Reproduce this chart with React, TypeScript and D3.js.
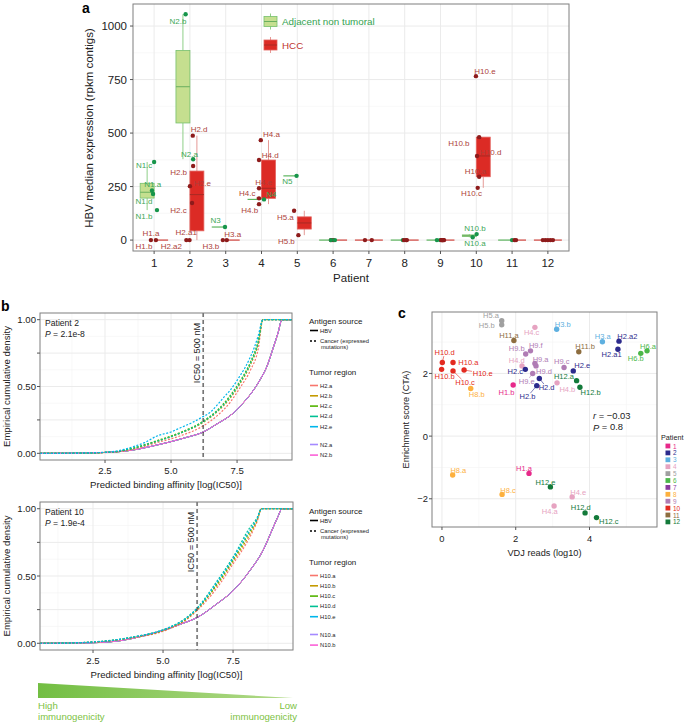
import React from "react";
import * as d3 from "d3";

const FONT = "'Liberation Sans', Arial, Helvetica, sans-serif";

// ================= Panel a data =================
const patientsA = [1, 2, 3, 4, 5, 6, 7, 8, 9, 10, 11, 12];
const yTicksA = [0, 250, 500, 750, 1000];
const yMinorA = [125, 375, 625, 875];
const groupLabelsA = ["Adjacent non tumoral", "HCC"];
// [patient, group, sample, HBV median expression]
const samplesA: [number, string, string, number][] = [
  [1, "N", "N1.a", 232], [1, "N", "N1.b", 140], [1, "N", "N1.c", 365], [1, "N", "N1.d", 215],
  [1, "H", "H1.a", 0], [1, "H", "H1.b", 0],
  [2, "N", "N2.a", 378], [2, "N", "N2.b", 1055],
  [2, "H", "H2.a1", 0], [2, "H", "H2.a2", 0], [2, "H", "H2.b", 346], [2, "H", "H2.c", 173],
  [2, "H", "H2.d", 488], [2, "H", "H2.e", 252],
  [3, "N", "N3", 61], [3, "H", "H3.a", 0], [3, "H", "H3.b", 0],
  [4, "N", "N4", 190], [4, "H", "H4.a", 467], [4, "H", "H4.b", 168], [4, "H", "H4.c", 195],
  [4, "H", "H4.d", 374], [4, "H", "H4.e", 242],
  [5, "N", "N5", 300], [5, "H", "H5.a", 137], [5, "H", "H5.b", 23],
  [6, "H", "H6.a", 0], [6, "H", "H6.b", 0], [6, "N", "N6.a", 0], [6, "N", "N6.b", 0],
  [7, "H", "H7.a", 0], [7, "H", "H7.b", 0],
  [8, "N", "N8", 0], [8, "H", "H8.a", 0], [8, "H", "H8.b", 0], [8, "H", "H8.c", 0],
  [9, "N", "N9.a", 0], [9, "N", "N9.b", 0], [9, "H", "H9.a", 0], [9, "H", "H9.b", 0],
  [9, "H", "H9.c", 0], [9, "H", "H9.d", 0], [9, "H", "H9.e", 0], [9, "H", "H9.f", 0],
  [10, "N", "N10.a", 13], [10, "N", "N10.b", 28], [10, "H", "H10.a", 296], [10, "H", "H10.b", 481],
  [10, "H", "H10.c", 244], [10, "H", "H10.d", 393], [10, "H", "H10.e", 766],
  [11, "N", "N11", 0], [11, "H", "H11.a", 0], [11, "H", "H11.b", 0],
  [12, "H", "H12.a", 0], [12, "H", "H12.b", 0], [12, "H", "H12.c", 0], [12, "H", "H12.d", 0], [12, "H", "H12.e", 0],
];
// horizontal jitter of points (patient units)
const jitterA: Record<string, number> = {
  "N1.a": -0.06, "N1.b": 0.08, "N1.c": 0, "N1.d": -0.03, "H1.a": -0.09, "H1.b": 0.05,
  "N2.a": 0.09, "N2.b": -0.12, "H2.a1": -0.01, "H2.a2": -0.1, "H2.b": 0.09, "H2.c": 0.06, "H2.d": 0.08, "H2.e": 0,
  "N3": -0.02, "H3.a": 0.03, "H3.b": -0.08,
  "N4": 0.07, "H4.a": -0.02, "H4.b": -0.07, "H4.c": -0.07, "H4.d": -0.07, "H4.e": -0.07,
  "N5": -0.02, "H5.a": -0.09, "H5.b": 0.03,
  "H6.a": -0.06, "H6.b": 0.0, "N6.a": -0.06, "N6.b": 0.05,
  "H7.a": -0.11, "H7.b": 0.08,
  "N8": -0.05, "H8.a": -0.02, "H8.b": 0.04, "H8.c": 0.06,
  "N9.a": -0.1, "N9.b": -0.01, "H9.a": 0.02, "H9.b": 0.04, "H9.c": 0.06, "H9.d": 0.08, "H9.e": 0.1, "H9.f": 0.05,
  "N10.a": -0.1, "N10.b": 0.01, "H10.a": 0.08, "H10.b": 0.08, "H10.c": 0.04, "H10.d": 0.02, "H10.e": -0.01,
  "N11": 0, "H11.a": 0.07, "H11.b": 0.11,
  "H12.a": -0.14, "H12.b": -0.07, "H12.c": 0, "H12.d": 0.07, "H12.e": 0.14,
};
// label offsets (px) from point to label centre
const labelNudgeA: Record<string, [number, number]> = {
  "N1.c": [-10, 4], "N1.a": [0.7, -6.3], "N1.d": [-9, 7], "N1.b": [-13, 6.5], "H1.a": [0, -6.5], "H1.b": [-12, 6.5],
  "N2.b": [-7.7, 7], "N2.a": [-3.7, -4.5], "H2.d": [6.3, -6], "H2.b": [-14.5, 6], "H2.e": [12.5, -2.7],
  "H2.c": [-13.5, 7.5], "H2.a1": [-3.3, -7.3], "H2.a2": [-15, 6.7],
  "N3": [-9.3, -6.3], "H3.a": [6, -5.5], "H3.b": [-12, 6.3],
  "H4.a": [10.7, -5.5], "H4.d": [11.2, -5], "H4.e": [4.8, -5.5], "H4.c": [-11.8, -4.5], "H4.b": [-9.2, 6.3], "N4": [7.3, -4.8],
  "N5": [-9.2, 5.5], "H5.a": [-8.7, 6.3], "H5.b": [-12, 6.2],
  "H10.e": [9, -5], "H10.b": [-20.3, 6.7], "H10.d": [13.8, -3.8], "H10.a": [-3.7, -5.5], "H10.c": [-6.2, 6],
  "N10.b": [-1.7, -5.2], "N10.a": [2.3, 6.3],
};
const labelSegmentsA = ["H4.c"];

// ================= Panel b data =================
const xTicksB = [2.5, 5, 7.5];
const xMinorB = [1.25, 3.75, 6.25, 8.75];
const yTicksB = [0, 0.25, 0.5, 0.75, 1];
const yTickLabelsB = ["0.00", "", "0.50", "", "1.00"];
const yMinorB = [0.125, 0.375, 0.625, 0.875];
const ic50Threshold = 500; // nM
const regionColors = ["#F8766D", "#C49A00", "#53B400", "#00C094", "#00B6EB", "#A58AFF", "#FB61D7"];
const regionsP2 = ["H2.a", "H2.b", "H2.c", "H2.d", "H2.e", "N2.a", "N2.b"];
const regionsP10 = ["H10.a", "H10.b", "H10.c", "H10.d", "H10.e", "N10.a", "N10.b"];
const hbvP2: [number, number][] = [
  [0.47, 0], [1.5, 0.001], [2.3, 0.005], [3.0, 0.012], [3.57, 0.025], [4.2, 0.05], [4.85, 0.08],
  [5.6, 0.12], [6.17, 0.155], [6.74, 0.22], [7.35, 0.3], [7.7, 0.37], [8.0, 0.44], [8.37, 0.55],
  [8.63, 0.65], [8.87, 0.79], [9.05, 0.9], [9.2, 1.0],
];
const cancerP2: [number, number][][] = [
  [[0.47, 0], [1.5, 0.001], [2.3, 0.004], [3.0, 0.012], [3.57, 0.03], [4.47, 0.08], [5.34, 0.13], [6.17, 0.2], [6.74, 0.28], [7.23, 0.38], [7.61, 0.49], [8.0, 0.62], [8.3, 0.78], [8.48, 1.0]],
  [[0.47, 0], [1.5, 0.001], [2.3, 0.005], [3.0, 0.014], [3.57, 0.035], [4.47, 0.09], [5.34, 0.15], [6.17, 0.225], [6.74, 0.31], [7.23, 0.41], [7.61, 0.52], [8.0, 0.66], [8.3, 0.82], [8.48, 1.0]],
  [[0.47, 0], [1.5, 0.001], [2.3, 0.005], [3.0, 0.015], [3.57, 0.04], [4.47, 0.095], [5.34, 0.155], [6.17, 0.235], [6.74, 0.32], [7.23, 0.43], [7.61, 0.54], [8.0, 0.68], [8.3, 0.84], [8.48, 1.0]],
  [[0.47, 0], [1.5, 0.001], [2.3, 0.005], [3.0, 0.015], [3.57, 0.038], [4.47, 0.09], [5.34, 0.15], [6.17, 0.23], [6.74, 0.315], [7.23, 0.42], [7.61, 0.53], [8.0, 0.67], [8.3, 0.83], [8.48, 1.0]],
  [[0.47, 0], [1.5, 0.002], [2.3, 0.006], [3.0, 0.02], [3.57, 0.05], [4.0, 0.08], [4.47, 0.13], [5.0, 0.16], [5.34, 0.19], [5.8, 0.23], [6.17, 0.27], [6.5, 0.31], [6.74, 0.36], [7.0, 0.42], [7.23, 0.47], [7.45, 0.53], [7.61, 0.58], [7.8, 0.64], [8.0, 0.72], [8.15, 0.79], [8.3, 0.88], [8.48, 1.0]],
];
const hbvP10: [number, number][] = [
  [1.0, 0], [2.0, 0.002], [2.75, 0.006], [3.5, 0.02], [4.2, 0.05], [5.0, 0.095], [5.6, 0.14],
  [6.25, 0.195], [6.9, 0.29], [7.5, 0.39], [8.1, 0.54], [8.57, 0.69], [8.93, 0.86], [9.1, 0.94], [9.25, 1.0],
];
const cancerP10: [number, number][][] = [
  [[1.0, 0], [2.5, 0.008], [3.9, 0.04], [5.14, 0.1], [5.8, 0.17], [6.25, 0.25], [6.92, 0.41], [7.5, 0.59], [8.1, 0.79], [8.35, 0.9], [8.52, 1.0]],
  [[1.0, 0], [2.5, 0.008], [3.9, 0.042], [5.14, 0.105], [5.8, 0.175], [6.25, 0.26], [6.92, 0.43], [7.5, 0.61], [8.1, 0.81], [8.35, 0.91], [8.52, 1.0]],
  [[1.0, 0], [2.5, 0.009], [3.9, 0.044], [5.14, 0.108], [5.8, 0.18], [6.25, 0.262], [6.92, 0.44], [7.5, 0.62], [8.1, 0.83], [8.35, 0.92], [8.52, 1.0]],
  [[1.0, 0], [2.5, 0.01], [3.9, 0.046], [5.14, 0.112], [5.8, 0.185], [6.25, 0.27], [6.92, 0.46], [7.5, 0.64], [8.1, 0.86], [8.35, 0.93], [8.52, 1.0]],
  [[1.0, 0], [2.5, 0.009], [3.9, 0.045], [5.14, 0.11], [5.8, 0.182], [6.25, 0.265], [6.92, 0.45], [7.5, 0.63], [8.1, 0.84], [8.35, 0.92], [8.52, 1.0]],
];

// ================= Panel c data =================
const xTicksC = [0, 2, 4];
const xMinorC = [1, 3, 5];
const yTicksC = [-2, 0, 2];
const yMinorC = [-1, 1, 3];
const patientColorsC = ["#e7298a", "#2c2a8c", "#5eb0e0", "#e6a3c1", "#a0a0a0", "#4cb84a",
  "#8b3a9f", "#fdb03e", "#b07cb4", "#e32a20", "#8d6d3f", "#137a3a"];
// [sample, VDJ reads (log10), enrichment score]
const samplesC: [string, number, number][] = [
  ["H5.a", 1.62, 3.68], ["H5.b", 1.62, 3.55], ["H4.c", 2.52, 3.47], ["H3.b", 3.11, 3.41],
  ["H11.a", 1.95, 3.05], ["H3.a", 4.35, 3.01], ["H2.a2", 4.8, 3.03], ["H2.a1", 4.77, 2.77],
  ["H11.b", 3.71, 2.69], ["H6.a", 5.56, 2.72], ["H6.b", 5.39, 2.64], ["H9.f", 2.4, 2.72],
  ["H9.b", 2.27, 2.62], ["H10.d", 0.01, 2.35], ["H10.a", 0.3, 2.35], ["H10.b", -0.01, 2.13],
  ["H10.c", 0.3, 2.08], ["H10.e", 0.6, 2.11], ["H8.b", 0.78, 1.52], ["H4.d", 2.17, 2.24],
  ["H9.a", 2.52, 2.32], ["H9.d", 2.55, 2.24], ["H9.e", 2.46, 2.0], ["H2.c", 2.26, 2.13],
  ["H2.d", 2.64, 1.84], ["H2.b", 2.57, 1.61], ["H1.b", 1.93, 1.63], ["H9.c", 3.31, 2.19],
  ["H2.e", 3.56, 2.08], ["H4.b", 3.12, 1.7], ["H12.a", 3.65, 1.77], ["H12.b", 3.74, 1.56],
  ["H8.a", 0.29, -1.24], ["H1.a", 2.36, -1.19], ["H12.e", 2.94, -1.62], ["H8.c", 1.63, -1.86],
  ["H4.e", 3.53, -1.94], ["H4.a", 3.04, -2.23], ["H12.d", 3.88, -2.45], ["H12.c", 4.19, -2.6],
];
const labelNudgeC: Record<string, [number, number]> = {
  "H5.a": [-10.7, -5], "H5.b": [-15, 0.7], "H4.c": [-3.3, 5.3], "H3.b": [6, -5], "H11.a": [-5, -5.3],
  "H3.a": [0.3, -5.7], "H2.a2": [8.3, -5], "H2.a1": [-6.3, 5.7], "H11.b": [6.3, -5], "H6.a": [1, -4.3],
  "H6.b": [-5, 5.3], "H9.f": [5.3, -5.3], "H9.b": [-9, -5], "H10.d": [2.3, -9.7], "H10.a": [15.3, 0.3],
  "H10.b": [3, 6.7], "H10.c": [12, 11.7], "H10.e": [18.7, 3.3], "H8.b": [6, 5.7], "H4.d": [-5.3, -5],
  "H9.a": [5.7, -4.3], "H9.d": [8, 5.7], "H9.e": [-6, 7.7], "H2.c": [-10, 1.7], "H2.d": [7.3, 9],
  "H2.b": [-9.3, 11], "H1.b": [-6.7, 7], "H9.c": [-2.3, -5.7], "H2.e": [9, -5], "H4.b": [10.3, 6.7],
  "H12.a": [-12.7, -4], "H12.b": [10.7, 5], "H8.a": [5.7, -4.7], "H1.a": [-5, -5], "H12.e": [-5, -4.7],
  "H8.c": [6, -4.3], "H4.e": [6, -4.3], "H4.a": [-4.3, 5], "H12.d": [-4.3, -5], "H12.c": [12.3, 4.3],
};
const labelSegmentsC = ["H10.d", "H10.c", "H10.e", "H9.e", "H2.d", "H2.b"];
const correlationText = ["r = \u22120.03", "P = 0.8"];

// ================= helpers =================
function boxStats(vals: number[]) {
  const s = [...vals].sort(d3.ascending);
  const q1 = d3.quantileSorted(s, 0.25) as number;
  const med = d3.quantileSorted(s, 0.5) as number;
  const q3 = d3.quantileSorted(s, 0.75) as number;
  const iqr = q3 - q1;
  const lo = d3.min(s.filter((v) => v >= q1 - 1.5 * iqr)) as number;
  const hi = d3.max(s.filter((v) => v <= q3 + 1.5 * iqr)) as number;
  return { q1, med, q3, lo, hi };
}

function segmentEnd(px: number, py: number, cx: number, cy: number, hw: number, hh: number) {
  const dx = px - cx, dy = py - cy;
  const s = Math.min(dx === 0 ? Infinity : hw / Math.abs(dx), dy === 0 ? Infinity : hh / Math.abs(dy));
  if (s >= 1) return null;
  return [cx + dx * s, cy + dy * s];
}

const GRID = "#ebebeb";
const GRID_MINOR = "#f4f4f4";
const BORDER = "#7f7f7f";
const TXT = "#222";

// ================= Panel a =================
function PanelA() {
  const x = d3.scaleLinear().domain([0.41, 12.59]).range([133, 569]);
  const y = d3.scaleLinear().domain([-51, 1103]).range([251, 4]);
  const bw = 0.39;
  const col: Record<string, any> = {
    N: { fill: "#c5df8f", stroke: "#76c06d", median: "#6aaf5f", whisker: "#8fcf88", zero: "#5db55e", point: "#16954a", label: "#3ea757" },
    H: { fill: "#dc2b25", stroke: "#e3625d", median: "#a82a24", whisker: "#e59a96", zero: "#d2423c", point: "#8e1b1b", label: "#ad3f3a" },
  };
  const boxes: any[] = [];
  patientsA.forEach((p) => {
    const rows = samplesA.filter((s) => s[0] === p);
    const hasN = rows.some((r) => r[1] === "N");
    const hasH = rows.some((r) => r[1] === "H");
    ["N", "H"].forEach((g) => {
      const vals = rows.filter((r) => r[1] === g).map((r) => r[3]);
      if (!vals.length) return;
      const single = !(hasN && hasH);
      const x0 = single ? p - bw : g === "N" ? p - bw : p;
      const x1 = single ? p + bw : g === "N" ? p : p + bw;
      boxes.push({ p, g, x0, x1, ...boxStats(vals) });
    });
  });
  const fs = 8;
  return (
    <g>
      <rect x={133} y={4} width={436} height={247} fill="#fff" />
      {yMinorA.map((v) => (
        <line key={"ym" + v} x1={133} x2={569} y1={y(v)} y2={y(v)} stroke={GRID_MINOR} strokeWidth={0.6} />
      ))}
      {yTicksA.map((v) => (
        <line key={"yg" + v} x1={133} x2={569} y1={y(v)} y2={y(v)} stroke={GRID} strokeWidth={1} />
      ))}
      {patientsA.map((p) => (
        <line key={"xg" + p} x1={x(p)} x2={x(p)} y1={4} y2={251} stroke={GRID} strokeWidth={1} />
      ))}
      {boxes.map((b, i) => {
        const cx = x((b.x0 + b.x1) / 2);
        return (
          <g key={"w" + i} stroke={col[b.g].whisker} strokeWidth={1}>
            {b.hi > b.q3 && <line x1={cx} x2={cx} y1={y(b.q3)} y2={y(b.hi)} />}
            {b.lo < b.q1 && <line x1={cx} x2={cx} y1={y(b.q1)} y2={y(b.lo)} />}
          </g>
        );
      })}
      {boxes.map((b, i) => {
        const h = y(b.q1) - y(b.q3);
        if (h < 0.6) {
          return (
            <line key={"b" + i} x1={x(b.x0)} x2={x(b.x1)} y1={y(b.med)} y2={y(b.med)} stroke={col[b.g].zero} strokeWidth={1.2} />
          );
        }
        return (
          <g key={"b" + i}>
            <rect x={x(b.x0)} y={y(b.q3)} width={x(b.x1) - x(b.x0)} height={h} fill={col[b.g].fill} stroke={col[b.g].stroke} strokeWidth={0.8} />
            <line x1={x(b.x0)} x2={x(b.x1)} y1={y(b.med)} y2={y(b.med)} stroke={col[b.g].median} strokeWidth={1} />
          </g>
        );
      })}
      {samplesA.filter((s) => labelSegmentsA.includes(s[2])).map((s) => {
        const px = x(s[0] + (jitterA[s[2]] || 0));
        const py = y(s[3]);
        const n = labelNudgeA[s[2]];
        const cx = px + n[0], cy = py + n[1];
        const e = segmentEnd(px, py, cx, cy, s[2].length * fs * 0.29, fs * 0.45);
        if (!e) return null;
        return <line key={"sg" + s[2]} x1={px} y1={py} x2={e[0]} y2={e[1]} stroke={col[s[1]].label} strokeWidth={0.6} />;
      })}
      {samplesA.map((s) => (
        <circle key={"pt" + s[2]} cx={x(s[0] + (jitterA[s[2]] || 0))} cy={y(s[3])} r={2.2} fill={col[s[1]].point} />
      ))}
      {samplesA.filter((s) => labelNudgeA[s[2]]).map((s) => {
        const n = labelNudgeA[s[2]];
        return (
          <text key={"lb" + s[2]} x={x(s[0] + (jitterA[s[2]] || 0)) + n[0]} y={y(s[3]) + n[1]} fontSize={fs}
            textAnchor="middle" dominantBaseline="central" fill={col[s[1]].label}>
            {s[2]}
          </text>
        );
      })}
      <rect x={133} y={4} width={436} height={247} fill="none" stroke={BORDER} strokeWidth={1} />
      {yTicksA.map((v) => (
        <g key={"yt" + v}>
          <line x1={130} x2={133} y1={y(v)} y2={y(v)} stroke="#555" />
          <text x={127} y={y(v)} fontSize={11.5} textAnchor="end" dominantBaseline="central" fill={TXT}>{v}</text>
        </g>
      ))}
      {patientsA.map((p) => (
        <g key={"xt" + p}>
          <line x1={x(p)} x2={x(p)} y1={251} y2={254} stroke="#555" />
          <text x={x(p)} y={263} fontSize={11.5} textAnchor="middle" dominantBaseline="central" fill={TXT}>{p}</text>
        </g>
      ))}
      <text x={351} y={278} fontSize={11.5} textAnchor="middle" dominantBaseline="central" fill={TXT}>Patient</text>
      <text transform="translate(89,128) rotate(-90)" fontSize={11.5} textAnchor="middle" dominantBaseline="central" fill={TXT}>
        HBV median expression (rpkm contigs)
      </text>
      <text x={82} y={13} fontSize={14} fontWeight="bold" fill="#000">a</text>
      {["N", "H"].map((g, i) => {
        const cy = i === 0 ? 21.5 : 45;
        return (
          <g key={"lg" + g}>
            <line x1={270.5} x2={270.5} y1={cy - 8} y2={cy + 8} stroke={col[g].whisker} />
            <rect x={264} y={cy - 5} width={13} height={10} fill={col[g].fill} stroke={col[g].stroke} strokeWidth={0.8} />
            <line x1={264} x2={277} y1={cy} y2={cy} stroke={col[g].median} />
            <text x={282} y={cy} fontSize={9.8} dominantBaseline="central" fill={g === "N" ? "#34a24f" : "#c0352f"}>
              {groupLabelsA[i]}
            </text>
          </g>
        );
      })}
    </g>
  );
}

// ================= Panel b =================
function EcdfPanel(props: any) {
  const { x0, x1, top, bottom, xDomain, regions, hbv, cancer, title, pval, legendTop } = props;
  const x = d3.scaleLinear().domain(xDomain).range([x0, x1]);
  const y = d3.scaleLinear().domain([-0.05, 1.05]).range([bottom, top]);
  const line = d3.line<[number, number]>().x((d) => x(d[0])).y((d) => y(d[1])).curve(d3.curveMonotoneX);
  const full = (c: [number, number][]) => [[xDomain[0], 0], ...c, [xDomain[1], 1]] as [number, number][];
  const xIC = x(Math.log(ic50Threshold));
  const clipId = "clip" + top;
  const lx = 309;
  const itemY = (i: number) => (i < 5 ? legendTop + 64.5 + i * 10.3 : legendTop + 123.5 + (i - 5) * 10.6);
  return (
    <g>
      <defs>
        <clipPath id={clipId}><rect x={x0} y={top} width={x1 - x0} height={bottom - top} /></clipPath>
      </defs>
      {yMinorB.map((v) => <line key={"ym" + v} x1={x0} x2={x1} y1={y(v)} y2={y(v)} stroke={GRID_MINOR} strokeWidth={0.6} />)}
      {xMinorB.map((v) => <line key={"xm" + v} x1={x(v)} x2={x(v)} y1={top} y2={bottom} stroke={GRID_MINOR} strokeWidth={0.6} />)}
      {yTicksB.map((v) => <line key={"yg" + v} x1={x0} x2={x1} y1={y(v)} y2={y(v)} stroke={GRID} />)}
      {xTicksB.map((v) => <line key={"xg" + v} x1={x(v)} x2={x(v)} y1={top} y2={bottom} stroke={GRID} />)}
      <g clipPath={`url(#${clipId})`}>
        {regions.map((r: string, i: number) => (
          <path key={"h" + r} d={line(full(hbv)) as string} fill="none" stroke={regionColors[i]} strokeWidth={1} />
        ))}
        {cancer.map((c: [number, number][], i: number) => (
          <path key={"c" + i} d={line(full(c)) as string} fill="none" stroke={regionColors[i]} strokeWidth={1.2} strokeDasharray="2,1.6" />
        ))}
        <line x1={xIC} x2={xIC} y1={top} y2={bottom} stroke="#333" strokeWidth={1.1} strokeDasharray="4,3" />
      </g>
      <text transform={`translate(${xIC - 6},${top + 40}) rotate(-90)`} fontSize={9.2} textAnchor="middle" dominantBaseline="central" fill={TXT}>
        IC50 = 500 nM
      </text>
      <text x={x0 + 5} y={top + 10} fontSize={8.6} dominantBaseline="central" fill={TXT}>{title}</text>
      <text x={x0 + 5} y={top + 20.5} fontSize={8.6} dominantBaseline="central" fill={TXT}>
        <tspan fontStyle="italic">P</tspan> = {pval}
      </text>
      <rect x={x0} y={top} width={x1 - x0} height={bottom - top} fill="none" stroke={BORDER} strokeWidth={1} />
      {yTicksB.map((v, i) => (
        <g key={"yt" + v}>
          <line x1={x0 - 3} x2={x0} y1={y(v)} y2={y(v)} stroke="#555" />
          {yTickLabelsB[i] && (
            <text x={x0 - 4} y={y(v)} fontSize={9.6} textAnchor="end" dominantBaseline="central" fill={TXT}>{yTickLabelsB[i]}</text>
          )}
        </g>
      ))}
      {xTicksB.map((v) => (
        <g key={"xt" + v}>
          <line x1={x(v)} x2={x(v)} y1={bottom} y2={bottom + 3} stroke="#555" />
          <text x={x(v)} y={bottom + 10} fontSize={9.6} textAnchor="middle" dominantBaseline="central" fill={TXT}>{v.toFixed(1)}</text>
        </g>
      ))}
      <text x={(x0 + x1) / 2} y={bottom + 24.5} fontSize={9.6} textAnchor="middle" dominantBaseline="central" fill={TXT}>
        Predicted binding affinity [log(IC50)]
      </text>
      <text transform={`translate(6,${(top + bottom) / 2}) rotate(-90)`} fontSize={9.6} textAnchor="middle" dominantBaseline="central" fill={TXT}>
        Empirical cumulative density
      </text>
      <text x={lx} y={legendTop} fontSize={8} dominantBaseline="central" fill={TXT}>Antigen source</text>
      <line x1={lx + 1} x2={lx + 9} y1={legendTop + 9.5} y2={legendTop + 9.5} stroke="#000" strokeWidth={1.6} />
      <text x={lx + 11} y={legendTop + 9.5} fontSize={5.8} dominantBaseline="central" fill={TXT}>HBV</text>
      <line x1={lx + 1} x2={lx + 9} y1={legendTop + 20} y2={legendTop + 20} stroke="#000" strokeWidth={1.6} strokeDasharray="2,2" />
      <text x={lx + 11} y={legendTop + 20} fontSize={5.8} dominantBaseline="central" fill={TXT}>Cancer (expressed</text>
      <text x={lx + 12} y={legendTop + 26} fontSize={5.8} dominantBaseline="central" fill={TXT}>mutations)</text>
      <text x={lx} y={legendTop + 51} fontSize={8} dominantBaseline="central" fill={TXT}>Tumor region</text>
      {regions.map((r: string, i: number) => (
        <g key={"li" + r}>
          <line x1={lx + 1} x2={lx + 9} y1={itemY(i)} y2={itemY(i)} stroke={regionColors[i]} strokeWidth={1.6} />
          <text x={lx + 11} y={itemY(i)} fontSize={5.8} dominantBaseline="central" fill={TXT}>{r}</text>
        </g>
      ))}
    </g>
  );
}

// ================= Panel c =================
function PanelC() {
  const X0 = 432, X1 = 657, T = 312, B = 527;
  const x = d3.scaleLinear().domain([-0.27, 5.83]).range([X0, X1]);
  const y = d3.scaleLinear().domain([-2.9, 3.96]).range([B, T]);
  const pcol = (name: string) => patientColorsC[parseInt(name.slice(1), 10) - 1];
  const fs = 7.5;
  return (
    <g>
      {yMinorC.map((v) => <line key={"ym" + v} x1={X0} x2={X1} y1={y(v)} y2={y(v)} stroke={GRID_MINOR} strokeWidth={0.6} />)}
      {xMinorC.map((v) => <line key={"xm" + v} x1={x(v)} x2={x(v)} y1={T} y2={B} stroke={GRID_MINOR} strokeWidth={0.6} />)}
      {yTicksC.map((v) => <line key={"yg" + v} x1={X0} x2={X1} y1={y(v)} y2={y(v)} stroke={GRID} />)}
      {xTicksC.map((v) => <line key={"xg" + v} x1={x(v)} x2={x(v)} y1={T} y2={B} stroke={GRID} />)}
      {samplesC.filter((s) => labelSegmentsC.includes(s[0])).map((s) => {
        const px = x(s[1]), py = y(s[2]);
        const n = labelNudgeC[s[0]];
        const e = segmentEnd(px, py, px + n[0], py + n[1], s[0].length * fs * 0.29, fs * 0.45);
        if (!e) return null;
        return <line key={"sg" + s[0]} x1={px} y1={py} x2={e[0]} y2={e[1]} stroke={pcol(s[0])} strokeWidth={0.6} />;
      })}
      {samplesC.map((s) => (
        <circle key={"p" + s[0]} cx={x(s[1])} cy={y(s[2])} r={2.7} fill={pcol(s[0])} />
      ))}
      {samplesC.map((s) => {
        const n = labelNudgeC[s[0]] || [0, -5];
        return (
          <text key={"l" + s[0]} x={x(s[1]) + n[0]} y={y(s[2]) + n[1]} fontSize={fs} textAnchor="middle"
            dominantBaseline="central" fill={pcol(s[0])}>{s[0]}</text>
        );
      })}
      <text x={593} y={415} fontSize={9.4} dominantBaseline="central" fill={TXT}>
        <tspan fontStyle="italic">r</tspan>{correlationText[0].slice(1)}
      </text>
      <text x={593} y={426.5} fontSize={9.4} dominantBaseline="central" fill={TXT}>
        <tspan fontStyle="italic">P</tspan>{correlationText[1].slice(1)}
      </text>
      <rect x={X0} y={T} width={X1 - X0} height={B - T} fill="none" stroke={BORDER} strokeWidth={1} />
      {yTicksC.map((v) => (
        <g key={"yt" + v}>
          <line x1={X0 - 3} x2={X0} y1={y(v)} y2={y(v)} stroke="#555" />
          <text x={X0 - 4} y={y(v)} fontSize={9.4} textAnchor="end" dominantBaseline="central" fill={TXT}>
            {v < 0 ? "\u2212" + Math.abs(v) : v}
          </text>
        </g>
      ))}
      {xTicksC.map((v) => (
        <g key={"xt" + v}>
          <line x1={x(v)} x2={x(v)} y1={B} y2={B + 3} stroke="#555" />
          <text x={x(v)} y={B + 11} fontSize={9.4} textAnchor="middle" dominantBaseline="central" fill={TXT}>{v}</text>
        </g>
      ))}
      <text x={(X0 + X1) / 2} y={553} fontSize={9.2} textAnchor="middle" dominantBaseline="central" fill={TXT}>VDJ reads (log10)</text>
      <text transform={`translate(406,${(T + B) / 2}) rotate(-90)`} fontSize={9.2} textAnchor="middle" dominantBaseline="central" fill={TXT}>
        Enrichment score (CTA)
      </text>
      <text x={398} y={318} fontSize={14} fontWeight="bold" fill="#000">c</text>
      <text x={661} y={437} fontSize={7.2} dominantBaseline="central" fill={TXT}>Patient</text>
      {patientColorsC.map((c, i) => (
        <g key={"pl" + i}>
          <rect x={665.5} y={446 + i * 6.9 - 2.4} width={4.8} height={4.8} fill={c} />
          <text x={673} y={446 + i * 6.9} fontSize={6.4} dominantBaseline="central" fill={c}>{i + 1}</text>
        </g>
      ))}
    </g>
  );
}

// ================= immunogenicity wedge =================
function Wedge() {
  const x = d3.scaleLinear().domain([0, 1]).range([38, 293]);
  return (
    <g>
      <defs>
        <linearGradient id="wedgeGrad" x1="0" x2="1" y1="0" y2="0">
          <stop offset="0" stopColor="#72be42" />
          <stop offset="1" stopColor="#b3da8a" />
        </linearGradient>
      </defs>
      <polygon points={`${x(0)},683 ${x(1)},698 ${x(0)},698`} fill="url(#wedgeGrad)" />
      <text x={38} y={705} fontSize={9.6} dominantBaseline="central" fill="#7dc242">High</text>
      <text x={38} y={716} fontSize={9.6} dominantBaseline="central" fill="#7dc242">immunogenicity</text>
      <text x={297} y={705} fontSize={9.6} textAnchor="end" dominantBaseline="central" fill="#7dc242">Low</text>
      <text x={297} y={716} fontSize={9.6} textAnchor="end" dominantBaseline="central" fill="#7dc242">immunogenicity</text>
    </g>
  );
}

export default function App() {
  return (
    <svg width={685} height={722} viewBox="0 0 685 722" fontFamily={FONT}
      style={{ position: "absolute", left: 0, top: 0, display: "block" }}>
      <rect width={685} height={722} fill="#fff" />
      <PanelA />
      <text x={1} y={311} fontSize={14} fontWeight="bold" fill="#000">b</text>
      <EcdfPanel x0={40} x1={292} top={313} bottom={460} xDomain={[0.038, 9.58]} regions={regionsP2}
        hbv={hbvP2} cancer={cancerP2} title="Patient 2" pval="2.1e-8" legendTop={321} />
      <EcdfPanel x0={40} x1={293} top={502} bottom={650} xDomain={[0.607, 9.64]} regions={regionsP10}
        hbv={hbvP10} cancer={cancerP10} title="Patient 10" pval="1.9e-4" legendTop={511} />
      <Wedge />
      <PanelC />
    </svg>
  );
}
